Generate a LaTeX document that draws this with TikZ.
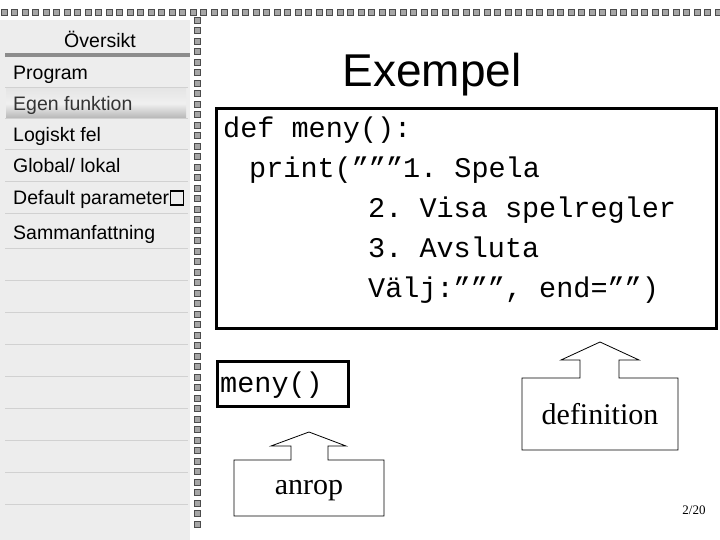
\documentclass[tikz,border=0pt]{standalone}
\usepackage{fontspec}
\setmainfont{Liberation Serif}
\setsansfont{Liberation Sans}
\setmonofont{Liberation Mono}
\begin{document}
\begin{tikzpicture}[x=1pt,y=-1pt,
  side/.style={anchor=base west,font=\sffamily\fontsize{19.5}{19.5}\selectfont,inner sep=0},
  code/.style={anchor=base west,font=\ttfamily\fontsize{28.5}{28.5}\selectfont,inner sep=0},
  ring/.style={draw=black!70,fill=black!35,line width=0.8pt},
  call/.style={draw=black,line width=0.8pt,fill=white}]
\useasboundingbox (0,0) rectangle (720,540);
\fill[white] (0,0) rectangle (720,540);
\fill[black!7] (0,20) rectangle (190,540);
\foreach \y in {88,119,150,182,214,248,280,312,344,376,408,440,472,504}
  \draw[black!18,line width=1pt] (5,\y) -- (188,\y);
\shade[top color=black!10,bottom color=black!28,middle color=black!6] (6,89) rectangle (186,118);
\fill[black!45] (5,53) rectangle (190,57);
\node[side,anchor=base] (ov) at (100,48) {Översikt};
\node[side] (p1) at (13,80) {Program};
\node[side,text=black!80] (p2) at (13,111) {Egen funktion};
\node[side] (p3) at (13,142) {Logiskt fel};
\node[side] (p4) at (13,173) {Global/ lokal};
\node[side] (p5) at (13,205) {Default parameter};
\draw[line width=1.2pt] ([xshift=1pt]p5.base east) rectangle ++(13,-14);
\node[side] (p6) at (13,240) {Sammanfattning};
\foreach \x in {4,14.5,...,720} \draw[ring] (\x-3,9) rectangle (\x+3,15);
\foreach \y in {20,30.5,...,530} \draw[ring] (194,\y-3) rectangle (200,\y+3);
\node[font=\sffamily\fontsize{46}{46}\selectfont] (t) at (432,75) {Exempel};
\draw[line width=3pt] (216,109) rectangle (716,328);
\node[code] (c1) at (223,138) {def meny():};
\node[code] (c2) at (249,178) {print(”””1. Spela};
\node[code] (c3) at (368,218) {2. Visa spelregler};
\node[code] (c4) at (368,257) {3. Avsluta};
\node[code] (c5) at (368,297) {Välj:”””, end=””)};
\draw[line width=3pt] (217,361) rectangle (348,406);
\node[code] (m) at (220,392) {meny()};
\draw[call] (234,460) -- (291,460) -- (291,446) -- (271,446) -- (309,432) -- (346,446) -- (328,446) -- (328,460) -- (384,460) -- (384,516) -- (234,516) -- cycle;
\node[font=\fontsize{30}{30}\selectfont] (a) at (309,491) {anrop};
\draw[call] (522,378) -- (580,378) -- (580,360) -- (561,360) -- (600,342) -- (639,360) -- (619,360) -- (619,378) -- (678,378) -- (678,450) -- (522,450) -- cycle;
\node[font=\fontsize{30}{30}\selectfont] (d) at (600,414) {definition};
\node[font=\fontsize{13}{13}\selectfont] (pg) at (694,510) {2/20};
\end{tikzpicture}
\end{document}
